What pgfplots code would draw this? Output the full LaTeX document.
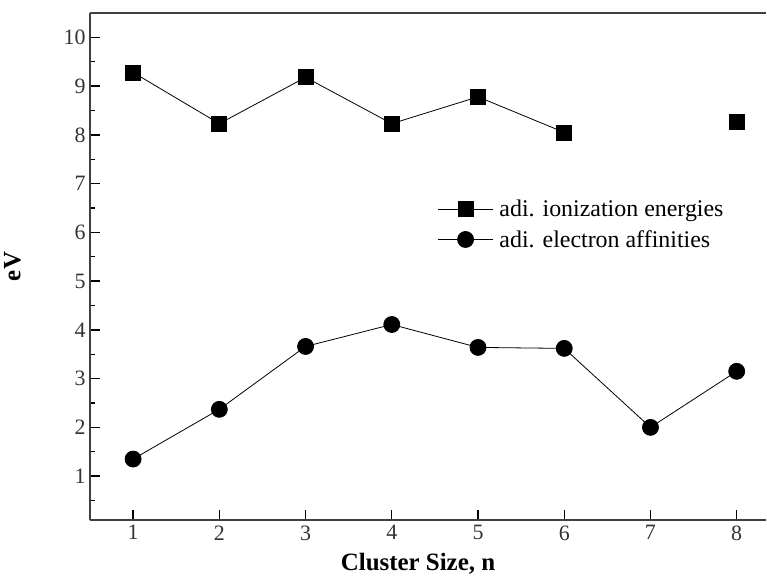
\documentclass[border=0pt]{standalone}
\usepackage{pgfplots}
\pgfplotsset{compat=1.18}
\usepackage{fontspec}
\setmainfont{Liberation Serif}
\begin{document}
\begin{tikzpicture}[x=1bp,y=1bp]
\path[use as bounding box] (0,0) rectangle (767,579);
\begin{axis}[
  at={(90bp,59bp)}, anchor=south west,
  scale only axis, width=676bp, height=507bp,
  xmin=0.5, xmax=8.34, ymin=0.1, ymax=10.5,
  axis x line*=box, axis y line*=left,
  axis line style={line width=1.6bp, draw=black!75},
  xtick={1,...,8}, ytick={1,...,10},
  minor ytick={0.5,1.5,...,10},
  tick align=inside, xtick pos=bottom, ytick pos=left,
  major tick length=10bp, minor tick length=5bp,
  tick style={line width=1.4bp, black},
  /pgf/number format/assume math mode=true,
  ticklabel style={font=\fontsize{22}{25}\selectfont, text=black!80},
  xticklabel style={yshift=-2bp},
  yticklabel style={xshift=-1bp},
  xlabel={\textbf{Cluster Size, n}},
  ylabel={\textbf{eV}},
  label style={font=\fontsize{25}{29}\selectfont},
  xlabel style={yshift=-6bp, xshift=-10bp},
  ylabel style={yshift=36bp},
  unbounded coords=jump,
  legend cell align=left,
  legend style={draw=none, fill=none, at={(rel axis cs:0.514,0.635)}, anchor=north west,
    font=\fontsize{24}{27}\selectfont, row sep=8bp, inner sep=0pt,
    nodes={inner xsep=6bp}},
  legend image code/.code={\draw[#1] (0bp,0bp) -- (55bp,0bp);
    \draw[#1, mark repeat=2, mark phase=2] plot coordinates {(0bp,0bp) (27.5bp,0bp) (55bp,0bp)};},
]
\addplot[black, line width=0.8bp, mark=square*, mark size=7.5bp, mark options={solid}] coordinates {
(1,9.28) (2,8.23) (3,9.18) (4,8.23) (5,8.78) (6,8.05) (7,nan) (8,8.27)};
\addlegendentry{adi. ionization energies}
\addplot[black, line width=0.8bp, mark=*, mark size=8bp, mark options={solid}] coordinates {
(1,1.35) (2,2.37) (3,3.66) (4,4.11) (5,3.64) (6,3.62) (7,2.00) (8,3.15)};
\addlegendentry{adi. electron affinities}
\end{axis}
\end{tikzpicture}
\end{document}
